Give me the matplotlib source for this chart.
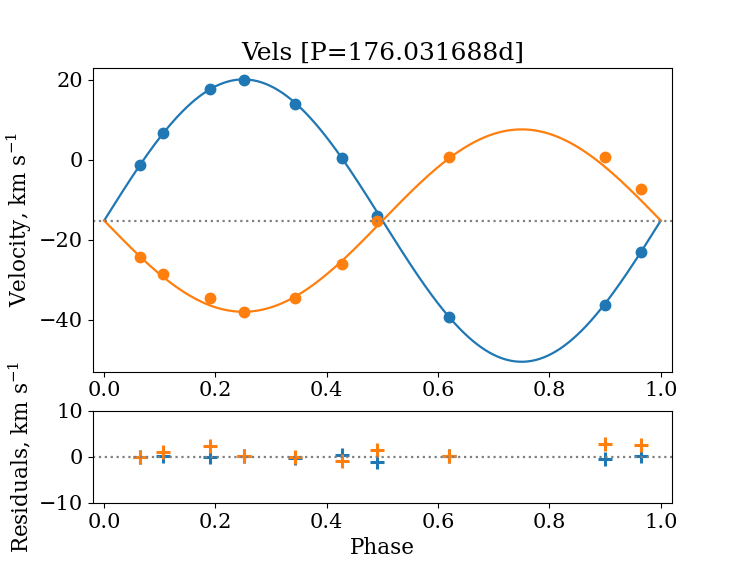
import numpy as np
import matplotlib
matplotlib.use("Agg")
import matplotlib.pyplot as plt

plt.rcParams['font.family'] = 'DejaVu Serif'
plt.rcParams['mathtext.fontset'] = 'dejavuserif'
plt.rcParams['font.size'] = 15

period = 176.031688
gamma = -15.2
k1 = 35.3
k2 = 22.8

phase = [0.065, 0.105, 0.190, 0.252, 0.343, 0.428, 0.490, 0.620, 0.900, 0.964]
v1 = [-1.4, 6.6, 17.6, 19.9, 14.0, 0.5, -14.0, -39.2, -36.2, -23.0]
v2 = [-24.2, -28.5, -34.5, -38.0, -34.5, -26.0, -15.3, 0.6, 0.7, -7.4]
res1 = [0.0, 0.1, 0.0, 0.1, -0.2, 0.45, -1.1, 0.1, -0.35, 0.2]
res2 = [0.05, 1.0, 2.3, 0.3, -0.05, -0.9, 1.4, 0.3, 2.8, 2.65]

# model curves from the orbit
ph = np.linspace(0, 1, 400)
m1 = gamma + k1 * np.sin(2 * np.pi * ph)
m2 = gamma - k2 * np.sin(2 * np.pi * ph)

fig = plt.figure(figsize=(7.47, 5.65), dpi=100)
ax = fig.add_axes([0.1245, 0.342, 0.775, 0.538])
axr = fig.add_axes([0.1245, 0.110, 0.775, 0.1626])

ax.plot(ph, m1, color='C0', lw=1.6)
ax.plot(ph, m2, color='C1', lw=1.6)
ax.plot(phase, v1, 'o', color='C0', ms=7.5)
ax.plot(phase, v2, 'o', color='C1', ms=7.5)
ax.axhline(gamma, color='gray', ls=':', lw=1.6)
ax.set_xlim(-0.02, 1.02)
ax.set_ylim(-53, 23)
ax.set_yticks([-40, -20, 0, 20])
ax.set_ylabel('Velocity, km s$^{-1}$', fontsize=15.5)
ax.set_title('Vels [P=%.6fd]' % period, fontsize=18)

axr.plot(phase, res1, '+', color='C0', ms=10, mew=2.2)
axr.plot(phase, res2, '+', color='C1', ms=10, mew=2.2)
axr.axhline(0, color='gray', ls=':', lw=1.6)
axr.set_xlim(-0.02, 1.02)
axr.set_ylim(-10, 10)
axr.set_yticks([-10, 0, 10])
axr.set_ylabel('Residuals, km s$^{-1}$', fontsize=15.5)
axr.set_xlabel('Phase', fontsize=15.5)

fig.savefig('out.png', dpi=100)
